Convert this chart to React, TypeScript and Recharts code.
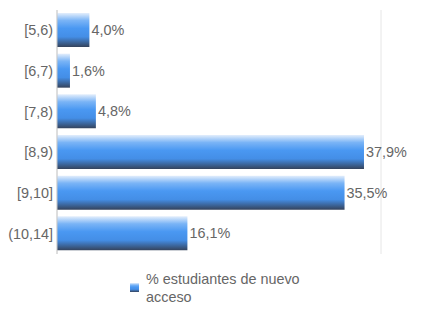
import React from 'react';
import { BarChart, Bar, XAxis, YAxis, CartesianGrid, LabelList } from 'recharts';

const categories = ['[5,6)', '[6,7)', '[7,8)', '[8,9)', '[9,10]', '(10,14]'];
const values = [4.0, 1.6, 4.8, 37.9, 35.5, 16.1];
const xTicks = [0, 20, 40];
const seriesName = '% estudiantes de nuevo acceso';

const data = categories.map((name, i) => ({ name, value: values[i] }));

const font = '"Liberation Sans", Arial, sans-serif';
const textColor = '#666666';
const fontSize = 14.4;

function GradStops() {
  return (
    <>
      <stop offset="0%" stopColor="#e3eefc" />
      <stop offset="22%" stopColor="#7ab4f6" />
      <stop offset="45%" stopColor="#4a98f2" />
      <stop offset="70%" stopColor="#448ee6" />
      <stop offset="100%" stopColor="#35435c" />
    </>
  );
}

export default function App() {
  const fmt = (v: number) => v.toFixed(1).replace('.', ',') + '%';

  return (
    <div style={{ position: 'absolute', left: 0, top: 0, width: 432, height: 324, fontFamily: font }}>
      <BarChart
        width={432}
        height={324}
        layout="vertical"
        data={data}
        margin={{ top: 10, right: 51, left: 0, bottom: 70 }}
      >
        <defs>
          <linearGradient id="barGrad" x1="0" y1="0" x2="0" y2="1">
            <GradStops />
          </linearGradient>
        </defs>
        <CartesianGrid horizontal={false} stroke="#e6e6e6" />
        <XAxis
          type="number"
          domain={[0, 40]}
          ticks={xTicks}
          tick={false}
          tickLine={false}
          height={0}
          axisLine={{ stroke: '#d0d0d0' }}
        />
        <YAxis
          type="category"
          dataKey="name"
          width={57}
          tickLine={false}
          tickSize={0}
          tickMargin={4}
          axisLine={{ stroke: '#c8c8c8' }}
          tick={{ fill: textColor, fontSize, fontFamily: font }}
        />
        <Bar dataKey="value" fill="url(#barGrad)" barSize={34} isAnimationActive={false}>
          <LabelList
            dataKey="value"
            position="right"
            offset={2}
            formatter={(v: any) => fmt(Number(v))}
            style={{ fill: textColor, fontSize, fontFamily: font }}
          />
        </Bar>
      </BarChart>
      <div
        style={{
          position: 'absolute',
          left: 130,
          top: 270,
          display: 'flex',
          alignItems: 'flex-start',
          color: textColor,
          fontSize,
          lineHeight: '18px',
        }}
      >
        <svg width={9} height={9} style={{ marginTop: 13, marginRight: 7, flexShrink: 0 }}>
          <defs>
            <linearGradient id="legGrad" x1="0" y1="0" x2="0" y2="1">
              <GradStops />
            </linearGradient>
          </defs>
          <rect x={0} y={0} width={9} height={9} fill="url(#legGrad)" />
        </svg>
        <span style={{ width: 175 }}>{seriesName}</span>
      </div>
    </div>
  );
}
